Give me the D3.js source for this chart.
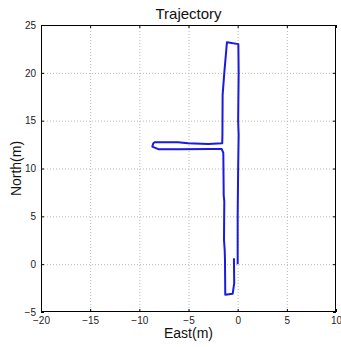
<!DOCTYPE html>
<html>
<head>
<meta charset="utf-8">
<script src="https://cdn.jsdelivr.net/npm/d3@7"></script>
<style>
  html, body { margin: 0; padding: 0; background: #fff; }
  svg { display: block; font-family: "Liberation Sans", Arial, sans-serif; }
</style>
</head>
<body>
<svg id="chart" width="341" height="347"></svg>
<script>
// trajectory samples (metres)
const east = [0.0, 0.0, 0.05, 0.1, 0.05, 0.1, 0.07,
  -1.09, -1.36, -1.53, -1.55, -1.57,
  -2.99, -5.05, -6.07, -8.41, -8.58, -8.68, -8.07, -6.07, -2.64, -1.63, -1.46,
  -1.42, -1.36, -1.39, -1.32, -1.29, -1.26,
  -0.51, -0.35, -0.38];
const north = [0.0, 5, 10, 13.5, 15, 20, 23.0,
  23.2, 20.0, 17.7, 13.5, 12.65,
  12.57, 12.64, 12.75, 12.75, 12.64, 12.29, 12.02, 12.0, 12.05, 12.05, 11.63,
  7.2, 6.6, 2.54, 1.49, 0.45, -3.2,
  -3.1, -1.99, 0.63];

const xTicks = [-20, -15, -10, -5, 0, 5, 10];
const yTicks = [-5, 0, 5, 10, 15, 20, 25];

const width = 341, height = 347;
const margin = { left: 41, right: 5, top: 25, bottom: 35 };

const svg = d3.select('#chart');

const x = d3.scaleLinear().domain([-20, 10]).range([margin.left, width - margin.right]);
const y = d3.scaleLinear().domain([-5, 25]).range([height - margin.bottom, margin.top]);

// grid, dotted like matlab
const grid = svg.append('g').attr('class', 'grid')
  .attr('stroke', '#b8b8b8')
  .attr('stroke-dasharray', '1,2');
grid.selectAll('line.gx')
  .data(xTicks.slice(1, -1))
  .join('line')
  .attr('x1', (d) => x(d) + 0.5).attr('x2', (d) => x(d) + 0.5)
  .attr('y1', y(25)).attr('y2', y(-5));
grid.selectAll('line.gy')
  .data(yTicks.slice(1, -1))
  .join('line')
  .attr('y1', (d) => y(d) + 0.5).attr('y2', (d) => y(d) + 0.5)
  .attr('x1', x(-20)).attr('x2', x(10));

// axes
const xAxis = d3.axisBottom(x).tickValues(xTicks).tickSizeInner(-3).tickSizeOuter(0).tickPadding(5);
const yAxis = d3.axisLeft(y).tickValues(yTicks).tickSizeInner(-3).tickSizeOuter(0).tickPadding(5);

const gx = svg.append('g')
  .attr('transform', `translate(0,${y(-5)})`)
  .call(xAxis);
const gy = svg.append('g')
  .attr('transform', `translate(${x(-20)},0)`)
  .call(yAxis);
svg.append('g').attr('transform', `translate(0,${y(25)})`)
  .call(d3.axisTop(x).tickValues(xTicks).tickSizeInner(-3).tickSizeOuter(0).tickFormat(''));
svg.append('g').attr('transform', `translate(${x(10)},0)`)
  .call(d3.axisRight(y).tickValues(yTicks).tickSizeInner(-3).tickSizeOuter(0).tickFormat(''));

svg.selectAll('.domain').remove();
svg.selectAll('.tick line').attr('stroke', '#000');
svg.selectAll('.tick text')
  .attr('fill', '#222')
  .style('font-size', '10px')
  .style('font-family', '"Liberation Sans", Arial, sans-serif');

// box
svg.append('rect')
  .attr('x', x(-20) + 0.5).attr('y', y(25) + 0.5)
  .attr('width', x(10) - x(-20) - 1).attr('height', y(-5) - y(25) - 1)
  .attr('fill', 'none')
  .attr('stroke', '#000')
  .attr('stroke-width', 1);

// trajectory
const pts = east.map((e, i) => [e, north[i]]);
svg.append('path')
  .datum(pts)
  .attr('fill', 'none')
  .attr('stroke', '#1a1ae0')
  .attr('stroke-width', 2)
  .attr('stroke-linejoin', 'round')
  .attr('d', d3.line().x((d) => x(d[0])).y((d) => y(d[1])));

// labels
svg.append('text')
  .attr('x', (x(-20) + x(10)) / 2).attr('y', 19)
  .attr('text-anchor', 'middle')
  .style('font-size', '15px')
  .attr('fill', '#111')
  .text('Trajectory');

svg.append('text')
  .attr('x', (x(-20) + x(10)) / 2).attr('y', 338)
  .attr('text-anchor', 'middle')
  .style('font-size', '14px')
  .attr('fill', '#111')
  .text('East(m)');

svg.append('text')
  .attr('transform', `translate(21,${(y(-5) + y(25)) / 2}) rotate(-90)`)
  .attr('text-anchor', 'middle')
  .style('font-size', '14px')
  .attr('fill', '#111')
  .text('North(m)');
</script>
</body>
</html>
